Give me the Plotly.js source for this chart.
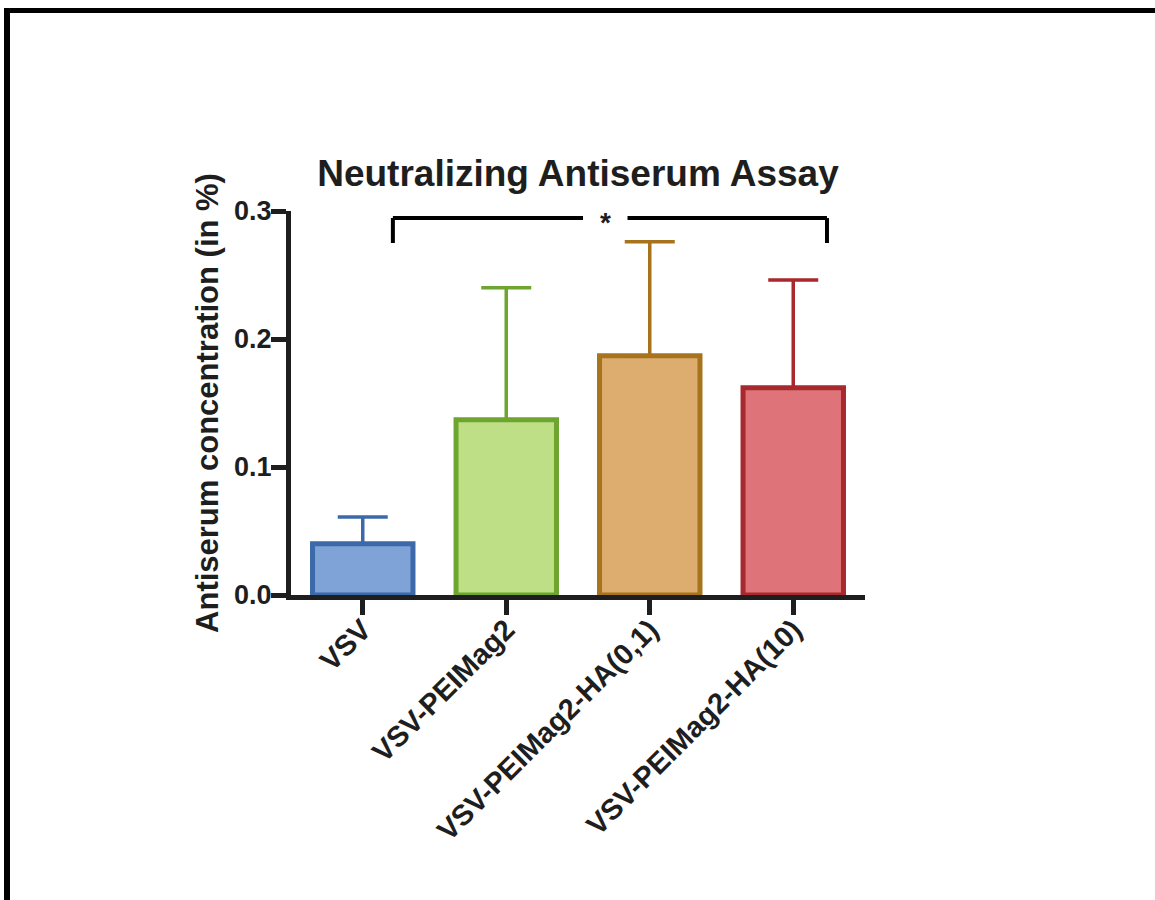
<!DOCTYPE html>
<html>
<head>
<meta charset="utf-8">
<script src="https://cdn.plot.ly/plotly-3.0.1.min.js"></script>
<style>
  html, body { margin: 0; padding: 0; background: #fff; }
  #wrap { position: relative; width: 1155px; height: 900px; overflow: hidden; }
  #chart { position: absolute; left: 0; top: 0; width: 1155px; height: 900px; }
  #frame { position: absolute; left: 4px; top: 8px; right: -10px; bottom: -10px;
           border-left: 6px solid #000; border-top: 5px solid #000; pointer-events: none; }
</style>
</head>
<body>
<div id="wrap">
  <div id="chart"></div>
  <div id="frame"></div>
</div>
<script>
// Antiserum concentration per vaccine formulation (mean and upper error)
const categories = ['VSV', 'VSV-PEIMag2', 'VSV-PEIMag2-HA(0,1)', 'VSV-PEIMag2-HA(10)'];
const means = [0.040, 0.137, 0.187, 0.162];
const errors = [0.021, 0.103, 0.089, 0.084];
const yTicks = [0.0, 0.1, 0.2, 0.3];
const yTickText = ['0.0', '0.1', '0.2', '0.3'];

// significance bracket between first and last group
const sigPair = [0, 3];
const sigLabel = '*';

const fills = ['#7fa3d6', '#bfdf86', '#ddad70', '#de7479'];
const edges = ['#3b69a9', '#6da52f', '#a8731d', '#a8282d'];

const FONT = 'Liberation Sans, Arial, Helvetica, sans-serif';
const INK = '#1e1e1e';

const traces = categories.map((c, i) => ({
  type: 'bar',
  x: [c],
  y: [means[i]],
  width: 0.7,
  marker: { color: fills[i], line: { color: edges[i], width: 5 } },
  error_y: {
    type: 'data', symmetric: false,
    array: [errors[i]], arrayminus: [0],
    color: edges[i], thickness: 3.5, width: 25
  },
  hoverinfo: 'x+y',
  showlegend: false
}));

// bracket geometry in category-index units
const bx0 = sigPair[0] + 0.21, bx1 = sigPair[1] + 0.235;
const byTop = 0.2945, byLeg = 0.275;
const starX = 1.69, gap = 0.155;
const bl = { color: '#000', width: 4 };
const shapes = [
  { type: 'line', xref: 'x', yref: 'y', x0: bx0, x1: bx0, y0: byLeg, y1: byTop, line: bl },
  { type: 'line', xref: 'x', yref: 'y', x0: bx0, x1: starX - gap, y0: byTop, y1: byTop, line: bl },
  { type: 'line', xref: 'x', yref: 'y', x0: starX + gap, x1: bx1, y0: byTop, y1: byTop, line: bl },
  { type: 'line', xref: 'x', yref: 'y', x0: bx1, x1: bx1, y0: byTop, y1: byLeg, line: bl }
];

const layout = {
  width: 1155, height: 900,
  margin: { l: 291, r: 290, t: 211, b: 305 },
  paper_bgcolor: '#fff', plot_bgcolor: 'rgba(0,0,0,0)',
  barmode: 'overlay',
  font: { family: FONT, color: INK },
  title: {
    text: '<b>Neutralizing Antiserum Assay</b>',
    font: { family: FONT, size: 37, color: INK },
    x: 0.5, xref: 'paper', xanchor: 'center',
    y: 1 - 173 / 900, yref: 'container', yanchor: 'middle'
  },
  xaxis: {
    type: 'category',
    range: [-0.5, 3.5],
    showline: true, linecolor: INK, linewidth: 5,
    ticks: 'outside', ticklen: 15, tickwidth: 5, tickcolor: INK,
    tickangle: -45,
    ticklabelstandoff: -14,
    tickfont: { family: FONT, size: 29, color: INK, weight: 'bold' },
    showgrid: false, zeroline: false, fixedrange: true
  },
  yaxis: {
    range: [0, 0.3],
    tickvals: yTicks, ticktext: yTickText.map(t => '<b>' + t + '</b>'),
    showline: true, linecolor: INK, linewidth: 5,
    ticks: 'outside', ticklen: 15, tickwidth: 5, tickcolor: INK,
    ticklabelstandoff: -6,
    tickfont: { family: FONT, size: 27, color: INK },
    title: {
      text: '<b>Antiserum concentration (in %)</b>',
      font: { family: FONT, size: 31, color: INK },
      standoff: 8
    },
    showgrid: false, zeroline: false, fixedrange: true
  },
  shapes: shapes,
  annotations: [{
    xref: 'x', yref: 'y', x: starX, y: byTop,
    text: '<b>' + sigLabel + '</b>', showarrow: false,
    font: { family: FONT, size: 28, color: INK },
    xanchor: 'center', yanchor: 'middle', yshift: -4
  }]
};

Plotly.newPlot('chart', traces, layout, { displayModeBar: false, staticPlot: true });
</script>
</body>
</html>
